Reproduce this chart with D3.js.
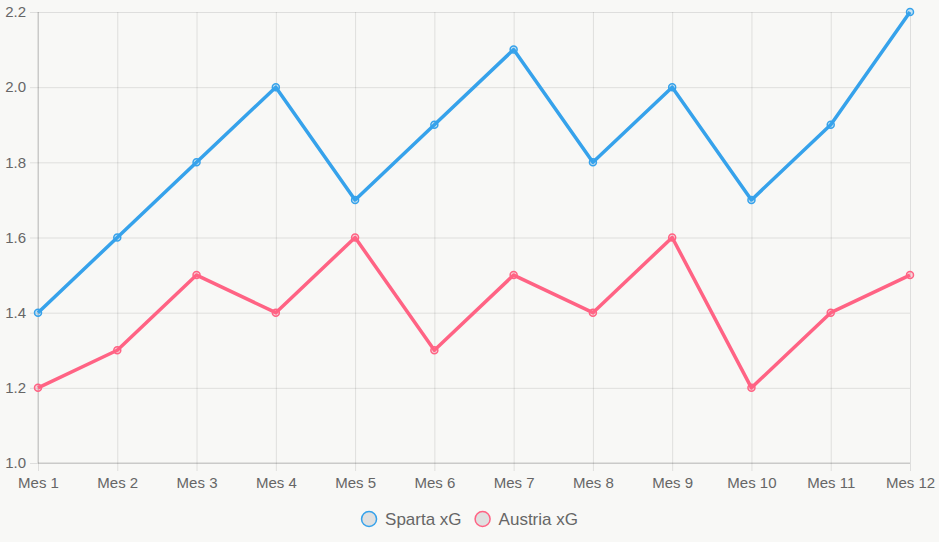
<!DOCTYPE html>
<html>
<head>
<meta charset="utf-8">
<script src="https://cdn.jsdelivr.net/npm/d3@7"></script>
<style>
  html, body { margin: 0; padding: 0; background: #f8f8f6; }
  svg { display: block; font-family: "Liberation Sans", Arial, Helvetica, sans-serif; }
</style>
</head>
<body>
<svg></svg>
<script>
const width = 939
const height = 542

// Data
const months = ["Mes 1", "Mes 2", "Mes 3", "Mes 4", "Mes 5", "Mes 6", "Mes 7", "Mes 8", "Mes 9", "Mes 10", "Mes 11", "Mes 12"]
const spartaXG = [1.4, 1.6, 1.8, 2.0, 1.7, 1.9, 2.1, 1.8, 2.0, 1.7, 1.9, 2.2]
const austriaXG = [1.2, 1.3, 1.5, 1.4, 1.6, 1.3, 1.5, 1.4, 1.6, 1.2, 1.4, 1.5]
const yTicks = [1.0, 1.2, 1.4, 1.6, 1.8, 2.0, 2.2]
const seriesNames = ["Sparta xG", "Austria xG"]
const seriesColors = ["#36a2eb", "#ff6384"]
const seriesFills = ["rgba(54,162,235,0.25)", "rgba(255,99,132,0.25)"]

const series = [spartaXG, austriaXG].map((values, i) => ({
    name: seriesNames[i],
    color: seriesColors[i],
    fill: seriesFills[i],
    values
}))

const margin = { top: 12, right: 29, bottom: 79, left: 38 }
const innerWidth = width - margin.left - margin.right
const innerHeight = height - margin.top - margin.bottom

const svg = d3.select("svg")
    .attr("width", width)
    .attr("height", height)

const g = svg.append("g")
    .attr("transform", `translate(${margin.left}, ${margin.top})`)

// Scales
const xScale = d3.scalePoint()
    .domain(months)
    .range([0, innerWidth])

const yScale = d3.scaleLinear()
    .domain([1.0, 2.2])
    .range([innerHeight, 0])

// Grid + axes
const yAxis = d3.axisLeft(yScale)
    .tickValues(yTicks)
    .tickFormat(d3.format(".1f"))
    .tickSize(-innerWidth - 8)
    .tickPadding(4)

const yAxisG = g.append("g")
    .attr("transform", "translate(-8, 0)")
    .call(yAxis)
yAxisG.select(".domain").remove()
yAxisG.selectAll(".tick line")
    .attr("stroke", "rgba(0,0,0,0.1)")
yAxisG.selectAll(".tick text")
    .attr("fill", "#666")
    .attr("font-size", "15px")

const xAxis = d3.axisBottom(xScale)
    .tickSize(-innerHeight - 8)
    .tickPadding(6)

const xAxisG = g.append("g")
    .attr("transform", `translate(0, ${innerHeight + 8})`)
    .call(xAxis)
xAxisG.select(".domain").remove()
xAxisG.selectAll(".tick line")
    .attr("stroke", "rgba(0,0,0,0.1)")
xAxisG.selectAll(".tick text")
    .attr("fill", "#666")
    .attr("font-size", "15px")

// axis border lines
g.append("line")
    .attr("x1", 0).attr("x2", 0)
    .attr("y1", 0).attr("y2", innerHeight)
    .attr("stroke", "rgba(0,0,0,0.18)")
g.append("line")
    .attr("x1", 0).attr("x2", innerWidth)
    .attr("y1", innerHeight).attr("y2", innerHeight)
    .attr("stroke", "rgba(0,0,0,0.18)")

// Lines
const line = d3.line()
    .x((d, i) => xScale(months[i]))
    .y(d => yScale(d))

series.forEach(s => {
    g.append("path")
        .datum(s.values)
        .attr("fill", "none")
        .attr("stroke", s.color)
        .attr("stroke-width", 3.5)
        .attr("stroke-linejoin", "round")
        .attr("d", line)

    g.selectAll(null)
        .data(s.values)
        .enter()
        .append("circle")
        .attr("cx", (d, i) => xScale(months[i]))
        .attr("cy", d => yScale(d))
        .attr("r", 3.5)
        .attr("fill", s.fill)
        .attr("stroke", s.color)
        .attr("stroke-width", 1.5)
})

// Legend
const legend = svg.append("g")
    .attr("transform", `translate(${width / 2}, 519)`)

const legendItems = legend.selectAll("g")
    .data(series)
    .enter()
    .append("g")

const itemWidths = []
legendItems.each(function (d) {
    const item = d3.select(this)
    item.append("circle")
        .attr("cx", 8)
        .attr("cy", 0)
        .attr("r", 7.5)
        .attr("fill", "#e0e0e0")
        .attr("stroke", d.color)
        .attr("stroke-width", 1.5)
    const t = item.append("text")
        .attr("x", 24)
        .attr("y", 0)
        .attr("dy", "0.35em")
        .attr("fill", "#666")
        .attr("font-size", "17px")
        .text(d.name)
    itemWidths.push(24 + t.node().getComputedTextLength())
})
const gap = 13
const total = d3.sum(itemWidths) + gap * (itemWidths.length - 1)
legendItems.attr("transform", (d, i) => {
    const x = -total / 2 + d3.sum(itemWidths.slice(0, i)) + gap * i
    return `translate(${x}, 0)`
})
</script>
</body>
</html>
